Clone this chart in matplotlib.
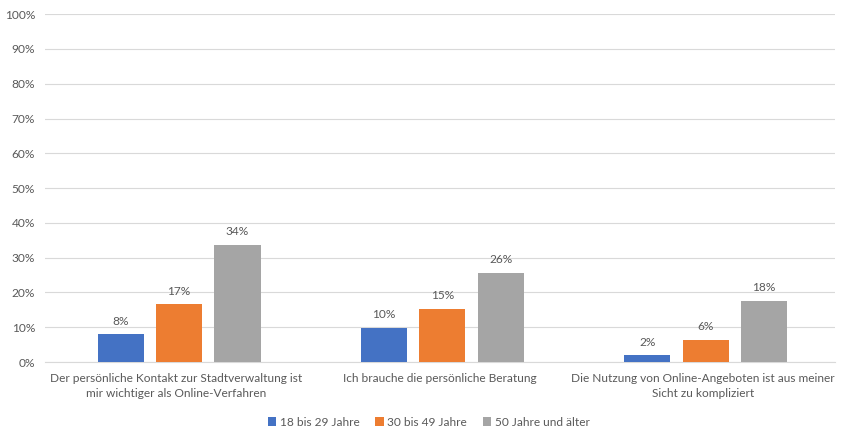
import matplotlib.pyplot as plt
import numpy as np

plt.rcParams['font.family'] = ['Lato', 'DejaVu Sans']

# categories and series (share of respondents)
categories = ['Der persönliche Kontakt zur Stadtverwaltung ist\nmir wichtiger als Online-Verfahren',
              'Ich brauche die persönliche Beratung',
              'Die Nutzung von Online-Angeboten ist aus meiner\nSicht zu kompliziert']
series_names = ['18 bis 29 Jahre', '30 bis 49 Jahre', '50 Jahre und älter']
age_18_29 = [0.080, 0.099, 0.019]
age_30_49 = [0.166, 0.153, 0.064]
age_50_plus = [0.337, 0.256, 0.176]
colors = ['#4472C4', '#ED7D31', '#A5A5A5']

text_col = '#595959'
fs = 8.6

fig = plt.figure(figsize=(8.44, 4.29), dpi=100)
ax = fig.add_axes([0.053, 0.156, 0.936, 0.811])

x = np.arange(len(categories))
width = 0.175
step = 0.222
for i, (vals, name) in enumerate(zip([age_18_29, age_30_49, age_50_plus], series_names)):
    bars = ax.bar(x + (i - 1) * step + 0.01, vals, width, color=colors[i], label=name, zorder=3)
    for b, v in zip(bars, vals):
        ax.text(b.get_x() + b.get_width() / 2, v + 0.022, '{:.0f}%'.format(v * 100),
                ha='center', va='bottom', fontsize=fs, color=text_col)

ax.set_xlim(-0.5, 2.5)
ax.set_ylim(0, 1)
ax.set_yticks(np.arange(0, 1.01, 0.1))
ax.set_yticklabels(['{:.0f}%'.format(t * 100) for t in np.arange(0, 1.01, 0.1)])
ax.yaxis.grid(True, color='#D9D9D9', linewidth=0.8, zorder=0)
ax.set_xticks(x)
ax.set_xticklabels(categories, fontsize=fs, color=text_col, linespacing=1.4)
ax.tick_params(axis='y', labelsize=fs, labelcolor=text_col, length=0, pad=7)
ax.tick_params(axis='x', length=0, pad=8)
for s in ['top', 'right', 'left']:
    ax.spines[s].set_visible(False)
ax.spines['bottom'].set_color('#D9D9D9')

fig.legend(loc='lower center', bbox_to_anchor=(0.508, -0.022), ncol=3, frameon=False,
           fontsize=fs, labelcolor=text_col, handlelength=0.7, handleheight=0.7,
           handletextpad=0.3, columnspacing=1.3)

fig.savefig('out.png', dpi=100)
